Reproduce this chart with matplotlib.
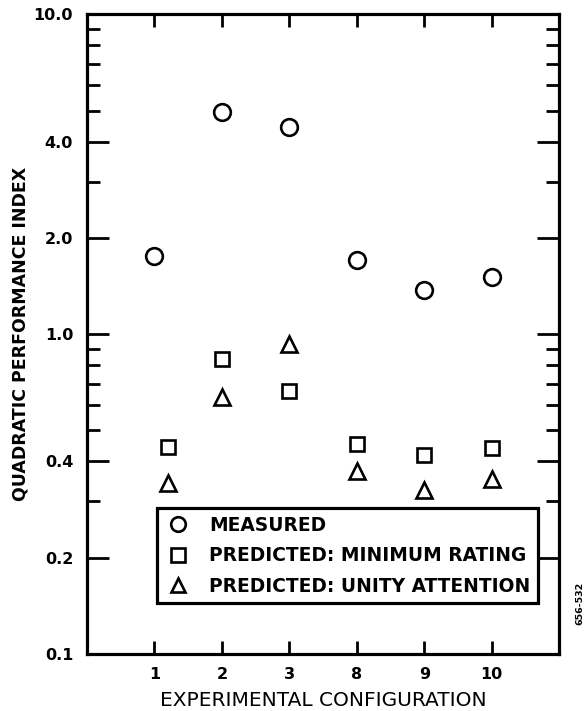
import numpy as np
import matplotlib.pyplot as plt
from matplotlib.ticker import FixedLocator, NullFormatter

plt.rcParams['font.family'] = ['DejaVu Sans']

# Data
configs = ['1', '2', '3', '8', '9', '10']
measured = [1.75, 4.95, 4.45, 1.70, 1.37, 1.51]
pred_min_rating = [0.445, 0.835, 0.665, 0.455, 0.42, 0.44]
pred_unity_attention = [0.342, 0.636, 0.935, 0.373, 0.325, 0.352]
pred_offset = [0.2, 0, 0, 0, 0, 0]  # config 1 predicted points sit a bit right of the tick

y_major = [0.1, 0.2, 0.4, 1.0, 2.0, 4.0, 10.0]
y_minor = [0.3, 0.5, 0.6, 0.7, 0.8, 0.9, 3, 5, 6, 7, 8, 9]

x = np.arange(1, len(configs) + 1)
x_pred = x + np.array(pred_offset)

fig = plt.figure(figsize=(5.88, 7.11), dpi=100)
ax = fig.add_axes([0.148, 0.080, 0.803, 0.900])

mk = dict(linestyle='none', markerfacecolor='none', markeredgecolor='black', markeredgewidth=1.9)
ax.plot(x, measured, marker='o', markersize=12, label='MEASURED', **mk)
ax.plot(x_pred, pred_min_rating, marker='s', markersize=10, label='PREDICTED: MINIMUM RATING', **mk)
ax.plot(x_pred, pred_unity_attention, marker='^', markersize=11, label='PREDICTED: UNITY ATTENTION', **mk)

ax.set_yscale('log')
ax.set_ylim(0.1, 10.0)
ax.set_xlim(0, len(configs) + 1)

ax.yaxis.set_major_locator(FixedLocator(y_major))
ax.yaxis.set_minor_locator(FixedLocator(y_minor))
ax.set_yticklabels([f'{v:.1f}' for v in y_major], fontweight='bold', fontsize=11.5)
ax.yaxis.set_minor_formatter(NullFormatter())
ax.set_xticks(x)
ax.set_xticklabels(configs, fontweight='bold', fontsize=11.5)

ax.tick_params(axis='y', which='major', direction='in', length=15.5, width=2, left=True, right=True, pad=10)
ax.tick_params(axis='y', which='minor', direction='in', length=9.5, width=2, left=True, right=True)
ax.tick_params(axis='x', which='major', direction='in', length=9.5, width=2, bottom=True, top=True, pad=9)

for s in ax.spines.values():
    s.set_linewidth(2.3)

ax.set_ylabel('QUADRATIC PERFORMANCE INDEX', fontweight='bold', fontsize=12.5, labelpad=3)
ax.set_xlabel('EXPERIMENTAL CONFIGURATION', fontsize=14.5, labelpad=7)

leg = ax.legend(loc='upper left', bbox_to_anchor=(0.148, 0.228), frameon=True, fancybox=False,
                framealpha=1, edgecolor='black', prop={'weight': 'bold', 'size': 13.4},
                handlelength=1.45, handletextpad=0.95, borderpad=0.4, labelspacing=0.62,
                borderaxespad=0)
leg.get_frame().set_linewidth(2.3)
for h in leg.legend_handles:
    h.set_markersize(10.5)

fig.text(0.986, 0.152, '656-532', rotation=90, fontsize=6.8, fontweight='bold', ha='center', va='center')

fig.savefig('out.png', dpi=100)
